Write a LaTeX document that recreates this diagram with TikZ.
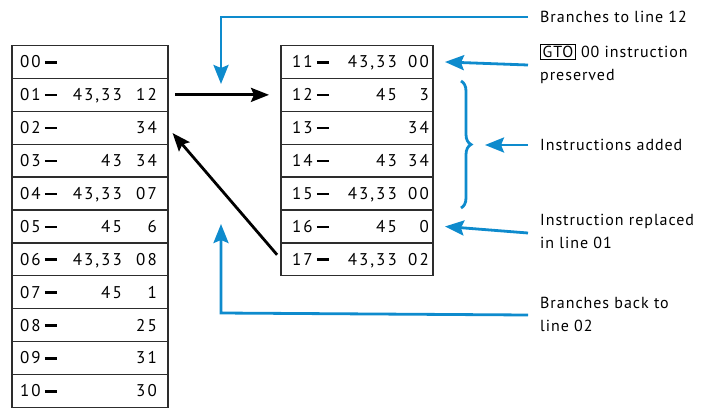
\documentclass[tikz,border=0pt]{standalone}
\usepackage{fontspec}
\setmainfont[LetterSpace=6]{PT Sans}
\newfontfamily\tabfont[LetterSpace=12]{PT Sans}
\usetikzlibrary{arrows.meta,decorations.pathreplacing}
\definecolor{cblue}{RGB}{14,139,205}
\definecolor{cline}{RGB}{45,45,45}
\newcommand\dsh{\hspace{4pt}\rule[4.3pt]{12.5pt}{2.5pt}}
\newcommand\lrow[4]{%
  \node[lrowbox] (L#2) at (90,{45.5+32.9*#1+16.45}) {};
  \node[txt,anchor=base west] at (20,{45.5+32.9*#1+22.3}) {#2\dsh};
  \node[txt,anchor=base east] at (122,{45.5+32.9*#1+22.3}) {#3};
  \node[txt,anchor=base east] at (157,{45.5+32.9*#1+22.3}) {#4};
}
\newcommand\rrow[4]{%
  \node[rrowbox] (R#2) at (357,{45.5+32.9*#1+16.45}) {};
  \node[txt,anchor=base west] at (292,{45.5+32.9*#1+22.3}) {#2\dsh};
  \node[txt,anchor=base east] at (397,{45.5+32.9*#1+22.3}) {#3};
  \node[txt,anchor=base east] at (429,{45.5+32.9*#1+22.3}) {#4};
}
\begin{document}
\begin{tikzpicture}[x=1pt,y=-1pt,font=\fontsize{16}{23}\selectfont,
  lrowbox/.style={draw=cline,line width=1.3pt,minimum width=156pt,minimum height=32.9pt,inner sep=0pt,outer sep=0pt},
  rrowbox/.style={lrowbox,minimum width=152pt},
  txt/.style={inner sep=0pt,text=black,font=\tabfont\fontsize{17}{18}\selectfont},
  lbl/.style={inner sep=0pt,anchor=west,align=left},
  barrow/.style={black,line width=2.8pt,-{Stealth[length=18pt,width=14pt,inset=3pt]}},
  blarrow/.style={cblue,line width=2.8pt,-{Stealth[length=19pt,width=15pt,inset=3pt]}},
  bline/.style={cblue,line width=2.8pt}
  ]
\useasboundingbox (0,0) rectangle (701,408);
% left table
\lrow{0}{00}{}{}
\lrow{1}{01}{43,33}{12}
\lrow{2}{02}{}{34}
\lrow{3}{03}{43}{34}
\lrow{4}{04}{43,33}{07}
\lrow{5}{05}{45}{6}
\lrow{6}{06}{43,33}{08}
\lrow{7}{07}{45}{1}
\lrow{8}{08}{}{25}
\lrow{9}{09}{}{31}
\lrow{10}{10}{}{30}
% right table
\rrow{0}{11}{43,33}{00}
\rrow{1}{12}{45}{3}
\rrow{2}{13}{}{34}
\rrow{3}{14}{43}{34}
\rrow{4}{15}{43,33}{00}
\rrow{5}{16}{45}{0}
\rrow{6}{17}{43,33}{02}
% labels
\node[lbl] (t1) at (540,17) {Branches to line 12};
\node[lbl] (t2) at (540,64) {{\fboxsep=1.5pt\fboxrule=0.9pt\fbox{GTO}} 00 instruction\\preserved};
\node[lbl] (t3) at (540,145) {Instructions added};
\node[lbl] (t4) at (540,231) {Instruction replaced\\in line 01};
\node[lbl] (t5) at (540,314) {Branches back to\\line 02};
% black arrows
\draw[barrow,shorten <=7pt,shorten >=12pt] (L01.east) -- (R12.west);
\draw[barrow,shorten <=6pt,shorten >=7pt] (R17.west) -- (L02.east);
% blue
\coordinate (c1) at (221,17);
\coordinate (e1) at (221,84);
\coordinate (c5) at (221,313);
\coordinate (e5) at (221,224);
\draw[blarrow] ([xshift=-12pt]t1.west) -- (c1) -- (e1);
\draw[blarrow] ([xshift=-12pt,yshift=-1pt]t2.west) -- ([xshift=12pt]R11.east);
\draw[blarrow] ([xshift=-12pt]t3.west) -- (485,145);
\draw[blarrow] ([xshift=-12pt,yshift=-2pt]t4.west) -- ([xshift=12pt]R16.east);
\draw[blarrow] ([xshift=-12pt,yshift=-1pt]t5.west) -- (c5) -- (e5);
\draw[bline,decorate,decoration={brace,amplitude=10pt}] (461,81) -- (461,208);
\end{tikzpicture}
\end{document}
